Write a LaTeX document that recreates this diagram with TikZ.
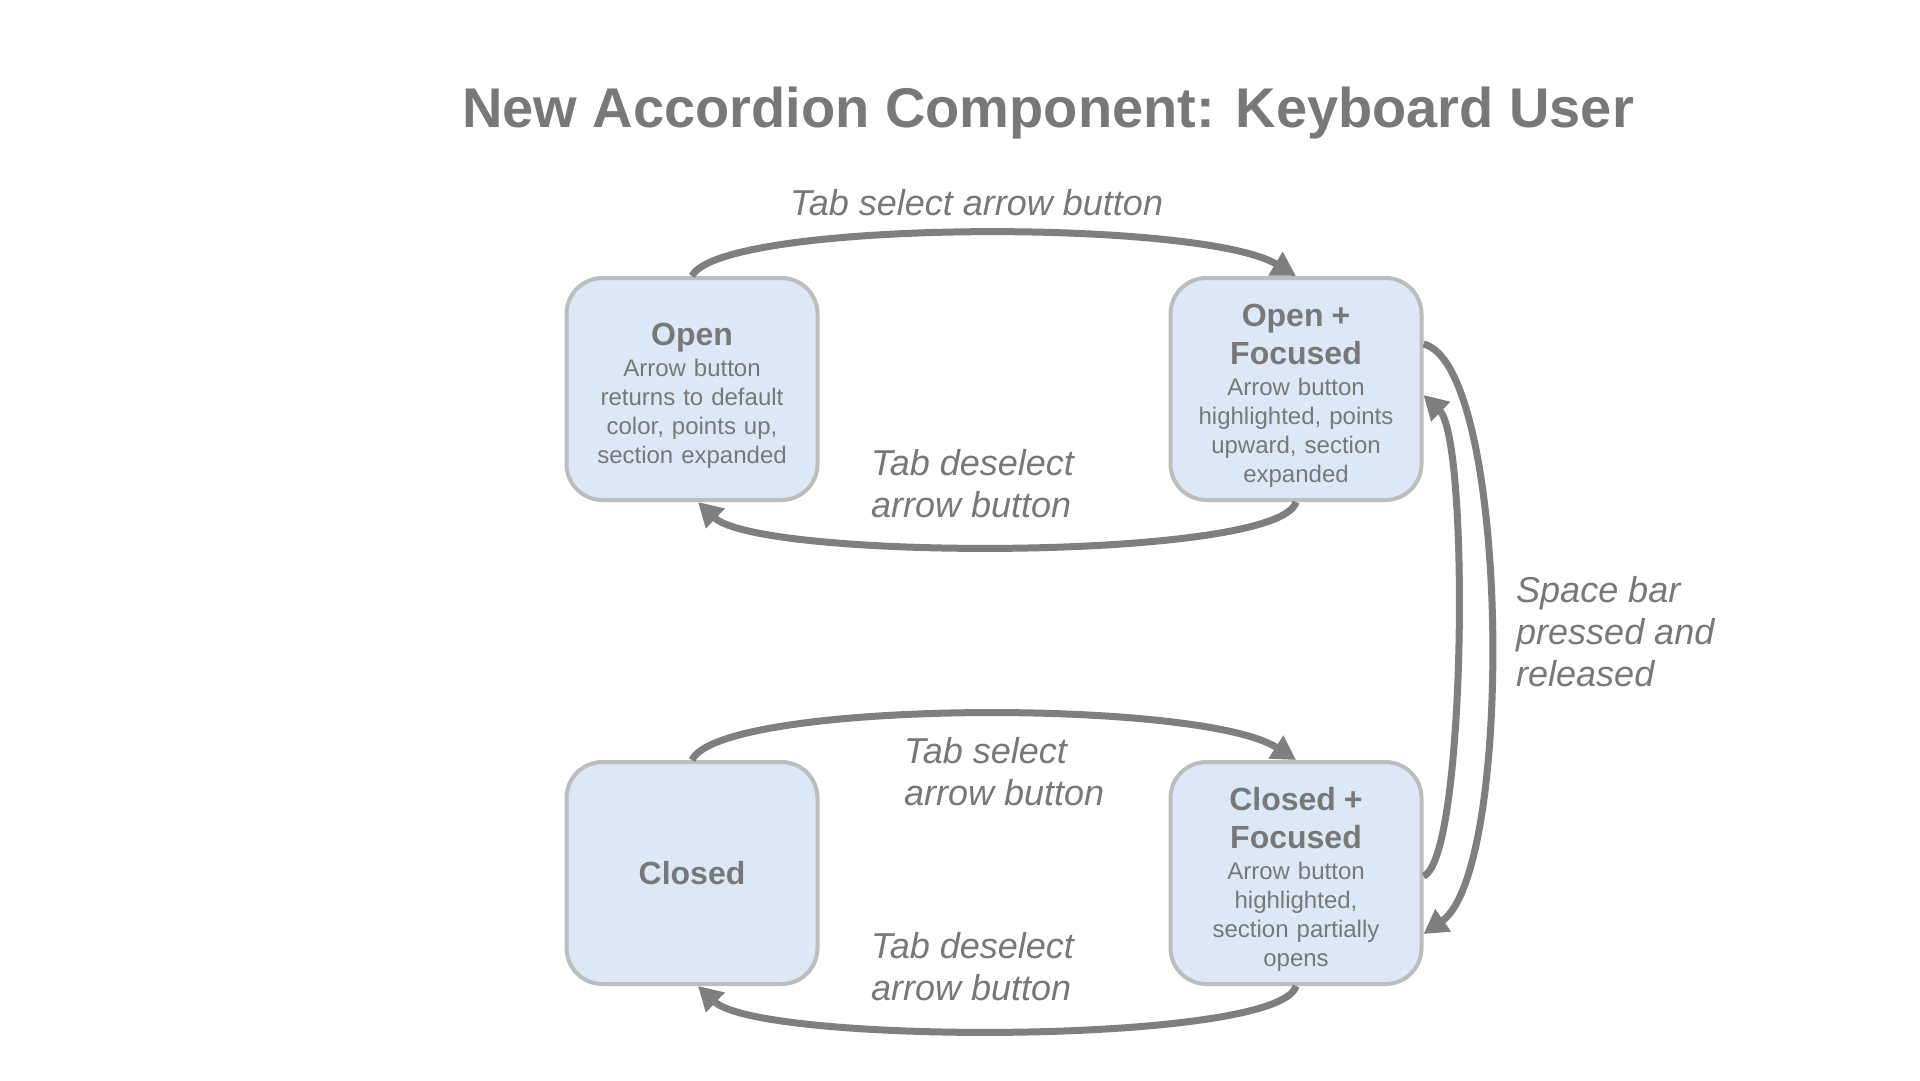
\documentclass[tikz,border=0pt]{standalone}
\usepackage{fontspec}
\setmainfont{Liberation Sans}
\usetikzlibrary{arrows.meta}
\definecolor{txt}{HTML}{787878}
\definecolor{arr}{HTML}{7F7F7F}
\definecolor{boxfill}{HTML}{DCE8F5}
\definecolor{boxline}{HTML}{BDBDBD}
\begin{document}
\begin{tikzpicture}[x=1pt,y=-1pt,
  state/.style={draw=boxline, line width=4pt, fill=boxfill, rounded corners=36pt,
    minimum width=251pt, minimum height=222pt, inner sep=0pt, align=center,
    text width=220pt, text=txt, font=\fontsize{24}{29}\selectfont},
  trans/.style={draw=arr, line width=7pt, -{Triangle[length=24pt,width=26pt]}},
  lbl/.style={text=txt, font=\fontsize{36}{42}\selectfont\itshape, align=left,
    inner sep=0pt, anchor=west}]
\fill[white] (0,0) rectangle (1920,1080);
\useasboundingbox (0,0) rectangle (1920,1080);

\node[text=txt, font=\fontsize{56}{64}\selectfont\bfseries] (title) at (1048,113)
  {New Accordion Component: Keyboard User};

\node[state] (open) at (692,389)
  {{\fontsize{32}{38}\selectfont\bfseries\rule{0pt}{36pt}Open\par}\vspace{2pt}
   Arrow button\\returns to default\\color, points up,\\section expanded};
\node[state] (of) at (1296,389)
  {{\fontsize{32}{38}\selectfont\bfseries\rule{0pt}{36pt}Open +\\Focused\par}\vspace{2pt}
   Arrow button\\highlighted, points\\upward, section\\expanded};
\node[state] (closed) at (692,873)
  {{\fontsize{32}{38}\selectfont\bfseries Closed\par}};
\node[state] (cf) at (1296,873)
  {{\fontsize{32}{38}\selectfont\bfseries\rule{0pt}{36pt}Closed +\\Focused\par}\vspace{2pt}
   Arrow button\\highlighted,\\section partially\\opens};

\node[lbl] (l1) at (790,203) {Tab select arrow button};
\node[lbl] (l2) at (871,484) {Tab deselect\\arrow button};
\node[lbl] (l3) at (904,772) {Tab select\\arrow button};
\node[lbl] (l4) at (871,967) {Tab deselect\\arrow button};
\node[lbl] (l5) at (1516,632) {Space bar\\pressed and\\released};

\draw[trans] (open.north) .. controls +(28,-56) and +(-96,-58) .. (of.north);
\draw[trans] (of.south) .. controls +(-16,59) and +(62,59) .. ([xshift=6pt]open.south);
\draw[trans] (closed.north) .. controls +(28,-60) and +(-96,-62) .. (cf.north);
\draw[trans] (cf.south) .. controls +(-16,59) and +(62,59) .. ([xshift=6pt]closed.south);

\draw[trans] ([yshift=45pt]of.east) .. controls (1510,365) and (1515,870) .. ([yshift=-61pt]cf.east);
\draw[trans] ([yshift=-3pt]cf.east) .. controls (1466,860) and (1470,440) .. ([yshift=-6pt]of.east);
\end{tikzpicture}
\end{document}
